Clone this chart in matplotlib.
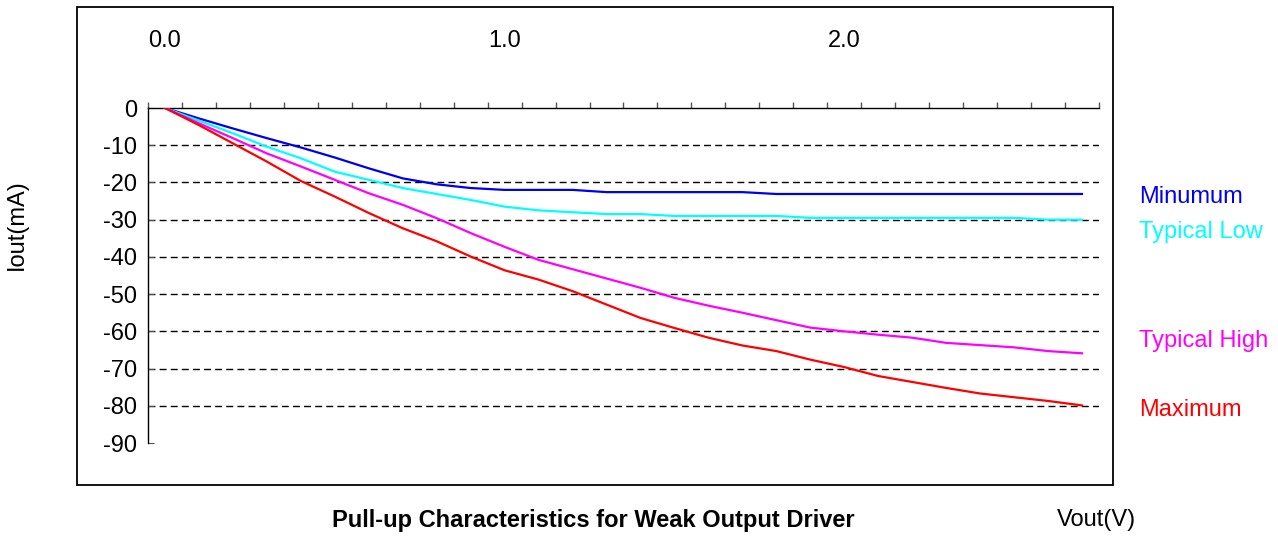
import matplotlib.pyplot as plt
from matplotlib.patches import Rectangle
import numpy as np

plt.rcParams['font.family'] = ['Liberation Sans', 'DejaVu Sans']
plt.rcParams['lines.scale_dashes'] = False
plt.rcParams['axes.unicode_minus'] = False

vout = [0.0, 0.1, 0.2, 0.3, 0.4, 0.5, 0.6, 0.7, 0.8, 0.9,
        1.0, 1.1, 1.2, 1.3, 1.4, 1.5, 1.6, 1.7, 1.8, 1.9,
        2.0, 2.1, 2.2, 2.3, 2.4, 2.5, 2.6, 2.7]

minimum = [0, -2.8, -5.5, -8.1, -10.6, -13.3, -16.2, -18.9, -20.5, -21.5,
           -22.0, -22.0, -22.0, -22.6, -22.6, -22.6, -22.6, -22.6, -23.1, -23.1,
           -23.1, -23.1, -23.1, -23.1, -23.1, -23.1, -23.1, -23.1]
typical_low = [0, -3.4, -6.8, -10.4, -13.5, -17.1, -19.3, -21.5, -23.1, -24.7,
               -26.5, -27.5, -28.0, -28.5, -28.5, -29.0, -29.0, -29.0, -29.0, -29.5,
               -29.5, -29.5, -29.5, -29.5, -29.5, -29.5, -30.0, -30.0]
typical_high = [0, -4.1, -8.1, -12.2, -15.7, -19.3, -22.9, -26.0, -29.6, -33.6,
                -37.3, -40.8, -43.3, -45.8, -48.3, -51.0, -53.1, -55.0, -57.0, -59.0,
                -60.0, -60.9, -61.7, -63.1, -63.7, -64.3, -65.3, -65.9]
maximum = [0, -4.6, -9.5, -14.4, -19.6, -23.8, -28.2, -32.3, -35.8, -39.9,
           -43.6, -46.1, -49.2, -52.8, -56.4, -59.1, -61.7, -63.8, -65.3, -67.6,
           -69.6, -72.0, -73.6, -75.2, -76.7, -77.7, -78.7, -79.9]

series = [("Minumum", minimum, '#0000f0', 0.6325),
          ("Typical Low", typical_low, '#00ffff', 0.5668),
          ("Typical High", typical_high, '#ff00ff', 0.3638),
          ("Maximum", maximum, '#ff0000', 0.2351)]

x_labels = ["0.0", "1.0", "2.0"]
y_ticks = list(range(-90, 1, 10))

fig = plt.figure(figsize=(12.78, 5.36), dpi=100, facecolor='w')
ax = fig.add_axes([0.1158, 0.1735, 0.7441, 0.625])

ax.hlines(y_ticks[1:-1], -0.05, 2.75, colors='black', lw=1,
          linestyles=(0, (5, 3)), zorder=1)

for name, vals, col, ty in series:
    ax.plot(vout, vals, color=col, lw=1.6, zorder=3)
    fig.text(1139 / 1278, ty, name, color=col, fontsize=17,
             ha='left', va='center')

ax.set_xlim(-0.05, 2.75)
ax.set_ylim(-90, 0)
ax.xaxis.tick_top()
ax.set_xticks([0, 1, 2])
ax.set_xticklabels(x_labels)
ax.set_xticks(np.arange(-0.05, 2.80, 0.1), minor=True)
ax.tick_params(axis='x', which='major', length=0, pad=40, labelsize=17)
ax.tick_params(axis='x', which='minor', direction='out', length=4.3,
               color='#555555', width=1)
ax.set_yticks(y_ticks)
ax.tick_params(axis='y', direction='in', length=4.5, pad=8, labelsize=17,
               color='#555555')

for sp in ('bottom', 'right'):
    ax.spines[sp].set_visible(False)
for sp in ('top', 'left'):
    ax.spines[sp].set_linewidth(1)
    ax.spines[sp].set_color('black')

fig.add_artist(Rectangle((77 / 1278, 0.0951), 1036 / 1278, 0.8918,
                         transform=fig.transFigure, fill=False,
                         edgecolor='black', lw=1.3))

fig.text(17 / 1278, 1 - 225 / 536, "Iout(mA)", rotation=90, fontsize=17,
         ha='center', va='center')
fig.text(593 / 1278, 1 - 520 / 536,
         "Pull-up Characteristics for Weak Output Driver",
         fontsize=17, fontweight='bold', ha='center', va='center')
fig.text(1057 / 1278, 1 - 520 / 536, "Vout(V)", fontsize=17,
         ha='left', va='center')

plt.savefig('out.png', dpi=100)
